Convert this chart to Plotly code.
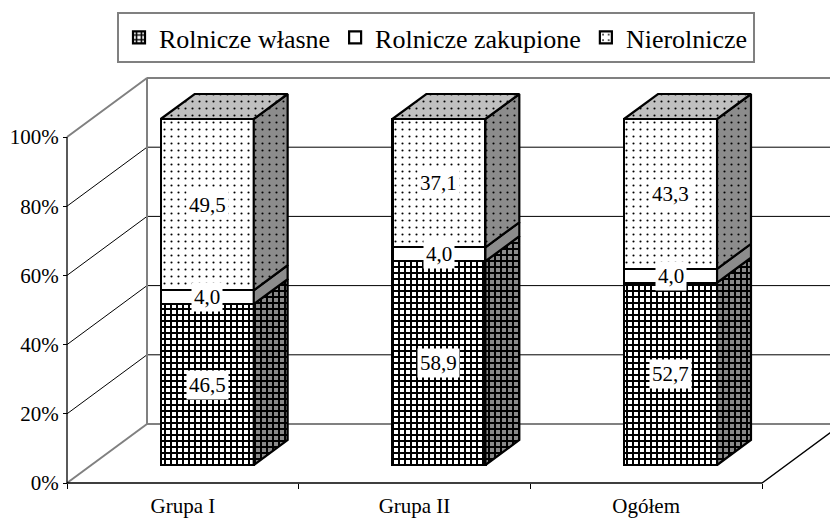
import plotly.graph_objects as go

categories = ["Grupa I", "Grupa II", "Ogółem"]
wlasne = [46.5, 58.9, 52.7]
zakupione = [4.0, 4.0, 4.0]
nierolnicze = [49.5, 37.1, 43.3]
series_names = ["Rolnicze własne", "Rolnicze zakupione", "Nierolnicze"]
y_ticks = [0, 20, 40, 60, 80, 100]
y_ticktext = [f"{v}%" for v in y_ticks]

W, H = 830, 518
FONT = "Liberation Serif"

# ---- projection set-up (front plane) ----
x_left_px, x_right_px = 67, 762
S = (x_right_px - x_left_px) / 3.0          # px per category
xr0 = -0.5 - x_left_px / S
xr1 = xr0 + W / S
y0_px, y100_px = 483, 137
T = (y0_px - y100_px) / 100.0               # px per percent
yr1 = y100_px / T + 100
yr0 = yr1 - H / T
Dx = 80 / S                                  # full depth in x units
Dy = 59 / T                                  # full depth in y units
z_front, z_back = 0.305, 0.729
bar_w = 93 / S
ddx = (z_back - z_front) * Dx
ddy = (z_back - z_front) * Dy

fig = go.Figure()

GRAY = "#808080"

def seg(xs, ys, color, width):
    fig.add_trace(go.Scatter(x=xs, y=ys, mode="lines", line=dict(color=color, width=width),
                             showlegend=False, hoverinfo="skip", xaxis="x", yaxis="y"))

xl = -0.5
xb = xl + Dx
xend = 2.5 + Dx
# gridlines on side wall and back wall
for v in y_ticks[1:-1]:
    seg([xl, xb, xend], [v, v + Dy, v + Dy], "black", 1)
# walls outline
seg([xl, xb, xb, xend], [100, 100 + Dy, Dy, Dy], GRAY, 2)
seg([xb, xend], [100 + Dy, 100 + Dy], GRAY, 2)
seg([xl, xb], [0, Dy], GRAY, 2)
# axis line and floor front
seg([xl, xl], [0, 100], "black", 1.3)
seg([xl, 2.5, 2.5 + Dx], [0, 0, Dy], "black", 1.3)

# ---- bars (front faces) ----
xs = list(range(len(categories)))
front_styles = [
    dict(color="white", pattern=dict(shape="+", fgcolor="black", bgcolor="white", size=6, solidity=0.55)),
    dict(color="white"),
    dict(color="white", pattern=dict(shape=".", fgcolor="black", bgcolor="white", size=7, solidity=0.07)),
]
values = [wlasne, zakupione, nierolnicze]
for name, vals, st in zip(series_names, values, front_styles):
    fig.add_trace(go.Bar(x=xs, y=vals, name=name, width=bar_w, xaxis="x2", yaxis="y2",
                         marker=dict(**st, line=dict(color="black", width=2.2)), hoverinfo="skip"))

# ---- side & top faces ----
side_styles = [
    dict(fillcolor="#7f7f7f", fillpattern=dict(shape="+", fgcolor="black", bgcolor="#8a8a8a", size=6, solidity=0.55)),
    dict(fillcolor="#8c8c8c"),
    dict(fillcolor="#8c8c8c", fillpattern=dict(shape=".", fgcolor="black", bgcolor="#8c8c8c", size=7, solidity=0.07)),
]
cum = [0.0] * len(categories)
for vals, st in zip(values, side_styles):
    px_, py_ = [], []
    for i, v in enumerate(vals):
        b, t = cum[i], cum[i] + v
        xr = i + bar_w / 2
        px_ += [xr, xr, xr + ddx, xr + ddx, xr, None]
        py_ += [b, t, t + ddy, b + ddy, b, None]
        cum[i] = t
    fig.add_trace(go.Scatter(x=px_, y=py_, mode="lines", fill="toself", **st,
                             line=dict(color="black", width=2.2), showlegend=False,
                             hoverinfo="skip", xaxis="x2", yaxis="y2"))
# top faces
tx, ty = [], []
for i in xs:
    t = cum[i]
    xa, xbb = i - bar_w / 2, i + bar_w / 2
    tx += [xa, xbb, xbb + ddx, xa + ddx, xa, None]
    ty += [t, t, t + ddy, t + ddy, t, None]
fig.add_trace(go.Scatter(x=tx, y=ty, mode="lines", fill="toself", fillcolor="#c0c0c0",
                         fillpattern=dict(shape=".", fgcolor="black", bgcolor="#c0c0c0", size=7, solidity=0.07),
                         line=dict(color="black", width=2.2), showlegend=False, hoverinfo="skip",
                         xaxis="x2", yaxis="y2"))

# ---- data labels ----
cum = [0.0] * len(categories)
for vals in values:
    for i, v in enumerate(vals):
        mid = cum[i] + v / 2
        cum[i] += v
        fig.add_annotation(x=i, y=mid, xref="x2", yref="y2", text=f"{v:.1f}".replace(".", ","),
                           showarrow=False, bgcolor="white", borderpad=2,
                           font=dict(family=FONT, size=21, color="black"))

fig.update_layout(
    width=W, height=H, margin=dict(l=0, r=0, t=0, b=0),
    paper_bgcolor="white", plot_bgcolor="rgba(0,0,0,0)",
    barmode="stack", template="none",
    font=dict(family=FONT, size=21, color="black"),
    showlegend=True,
    legend=dict(orientation="h", x=436 / W, xanchor="center", y=1 - 12 / H, yanchor="top",
                bordercolor=GRAY, borderwidth=2, bgcolor="white",
                font=dict(family=FONT, size=26, color="black"), traceorder="normal"),
    xaxis=dict(range=[xr0, xr1], tickvals=xs, ticktext=categories, ticks="", showgrid=False,
               zeroline=False, showline=False, anchor="free", position=(H - y0_px) / H,
               automargin=False, fixedrange=True, ticklabelstandoff=8,
               minor=dict(tickvals=[-0.5, 0.5, 1.5, 2.5], ticks="outside", ticklen=5,
                          tickcolor="black", tickwidth=1, showgrid=False),
               tickfont=dict(family=FONT, size=21, color="black")),
    yaxis=dict(range=[yr0, yr1], tickvals=y_ticks, ticktext=y_ticktext, ticks="outside", ticklen=4,
               tickcolor="black", tickwidth=1, showgrid=False, zeroline=False, showline=False,
               anchor="free", position=x_left_px / W, automargin=False, fixedrange=True,
               tickfont=dict(family=FONT, size=21, color="black")),
    xaxis2=dict(range=[xr0 - z_front * Dx, xr1 - z_front * Dx], overlaying="x", anchor="y2",
                visible=False, fixedrange=True),
    yaxis2=dict(range=[yr0 - z_front * Dy, yr1 - z_front * Dy], overlaying="y", anchor="x2",
                visible=False, fixedrange=True),
)

fig.write_html("out.html", config={"displayModeBar": False, "staticPlot": True},
               post_script="document.body.style.margin='0px';document.body.style.overflow='hidden';")
